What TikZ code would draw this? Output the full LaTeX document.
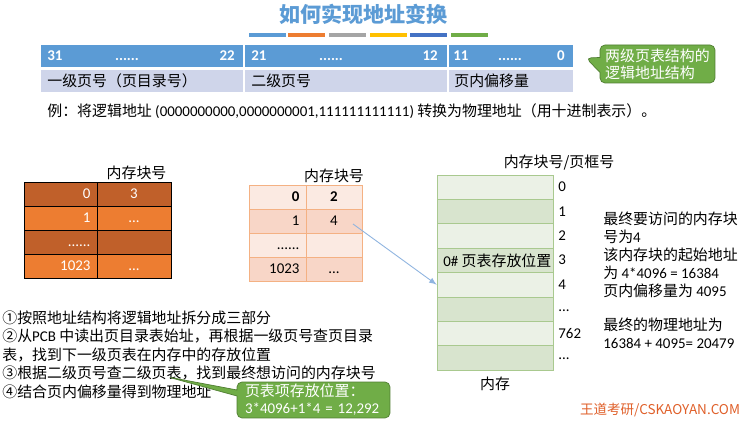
\documentclass[tikz,border=0pt]{standalone}
\usepackage{fontspec}
\setmainfont{Noto Sans CJK SC}
\newfontfamily\en{Carlito}
\usepackage{tikz}
\usetikzlibrary{arrows,shapes.callouts}

\definecolor{barblue}{HTML}{5B9BD5}
\definecolor{rowblue}{HTML}{CFD5EA}
\definecolor{barorange}{HTML}{ED7D31}
\definecolor{bargray}{HTML}{A5A5A5}
\definecolor{baryellow}{HTML}{FFC000}
\definecolor{bardblue}{HTML}{4472C4}
\definecolor{bargreen}{HTML}{70AD47}
\definecolor{calloutedge}{HTML}{507E32}
\definecolor{tabdark}{HTML}{C0602A}
\definecolor{tablight}{HTML}{FBEAE2}
\definecolor{tabpink}{HTML}{F8D6C7}
\definecolor{tabedge}{HTML}{F4B183}
\definecolor{memlight}{HTML}{EBF1E6}
\definecolor{memdark}{HTML}{D8E4CE}
\definecolor{memedge}{HTML}{A9C98F}
\definecolor{linkblue}{HTML}{8FB4E0}
\definecolor{markred}{HTML}{E0602A}

\newcommand\txt{\fontsize{8.5}{10.5}\selectfont}

\begin{document}
\begin{tikzpicture}[x=0.02cm, y=-0.02cm,
        seg/.style={fill=barblue, minimum height=0.44cm, inner sep=0pt},
        rowseg/.style={fill=rowblue, minimum height=0.44cm, inner sep=0pt},
        bar/.style={minimum width=0.73cm, minimum height=0.08cm, inner sep=0pt},
        bit/.style={font=\txt\en\bfseries, text=white, inner sep=0pt},
        lab/.style={font=\txt, inner sep=0pt},
        num/.style={font=\txt\en, inner sep=0pt},
        bubble/.style={rectangle callout, fill=bargreen, draw=calloutedge,
          rounded corners=1mm, text=white, align=left, inner sep=0pt,
          font=\fontsize{8.5}{9.8}\selectfont},
        lcell/.style={draw=black, minimum height=0.48cm, inner sep=0pt,
          text height=5.4pt, text depth=0pt, font=\txt\en, text=white},
        lkey/.style={lcell, text width=1.2cm, align=right, inner xsep=0.13cm},
        lval/.style={lcell, minimum width=1.48cm},
        rcell/.style={draw=tabedge, minimum height=0.48cm, inner sep=0pt,
          text height=5.4pt, text depth=0pt, font=\txt\en},
        rkey/.style={rcell, text width=0.88cm, align=right, inner xsep=0.13cm},
        rval/.style={rcell, minimum width=1.12cm},
        mem/.style={draw=memedge, minimum width=2.32cm, minimum height=0.4875cm,
          inner sep=0pt}, >=latex]
        \path[use as bounding box, fill=white] (0,0) rectangle (750,421);
        % title and colour bars
        \node (title) at (363.5,14) [font=\fontsize{12}{14}\selectfont\bfseries,
          text=barblue] {如何实现地址变换};
        \node (b1) at (267.3,35) [bar, fill=barblue] {};
        \node (b2) at (306.3,35) [bar, fill=barorange] {};
        \node (b3) at (347.7,35) [bar, fill=bargray] {};
        \node (b4) at (388.3,35) [bar, fill=baryellow] {};
        \node (b5) at (428.3,35) [bar, fill=bardblue] {};
        \node (b6) at (469.3,35) [bar, fill=bargreen] {};
        % logical address layout
        \node (hi) at (142,56) [seg, minimum width=4.04cm] {};
        \node (mid) at (346,56) [seg, minimum width=4.04cm] {};
        \node (lo) at (511,56) [seg, minimum width=2.48cm] {};
        \node (hin) at (142,81) [rowseg, minimum width=4.04cm] {};
        \node (midn) at (346,81) [rowseg, minimum width=4.04cm] {};
        \node (lon) at (511,81) [rowseg, minimum width=2.48cm] {};
        \node (b31) at (47,60.7) [bit, anchor=base west] {31};
        \node (d1) at (127,60.7) [bit, anchor=base] {......};
        \node (b22) at (235,60.7) [bit, anchor=base east] {22};
        \node (b21) at (251,60.7) [bit, anchor=base west] {21};
        \node (d2) at (331,60.7) [bit, anchor=base] {......};
        \node (b12) at (438,60.7) [bit, anchor=base east] {12};
        \node (b11) at (453,60.7) [bit, anchor=base west] {11};
        \node (d3) at (510,60.7) [bit, anchor=base] {......};
        \node (b0) at (565,60.7) [bit, anchor=base east] {0};
        \node (pdir) at (47,81) [lab, anchor=west] {一级页号（页目录号）};
        \node (ppage) at (251,81) [lab, anchor=west] {二级页号};
        \node (poff) at (454,81) [lab, anchor=west] {页内偏移量};
        \coordinate (tipa) at (586,58);
        \node (note) at (657.5,64) [bubble, minimum width=2.3cm, minimum height=0.76cm,
          callout absolute pointer={(tipa)}, callout pointer width=0.3cm]
          {两级页表结构的\\逻辑地址结构};
        \node (ex) at (47,111) [lab, anchor=west]
          {例：将逻辑地址 {\en (0000000000,0000000001,111111111111)} 转换为物理地址（用十进制表示）。};
        % page directory
        \node (lhead) at (136.5,173) [lab] {内存块号};
        \node (l0k) at (60.5,194) [lkey, fill=tabdark] {0};
        \node (l0v) at (134,194) [lval, fill=tabdark] {3};
        \node (l1k) at (60.5,218) [lkey, fill=barorange] {1};
        \node (l1v) at (134,218) [lval, fill=barorange] {...};
        \node (l2k) at (60.5,242) [lkey, fill=tabdark] {......};
        \node (l2v) at (134,242) [lval, fill=tabdark] {};
        \node (l3k) at (60.5,266) [lkey, fill=barorange] {1023};
        \node (l3v) at (134,266) [lval, fill=barorange] {...};
        % second level page table
        \node (rhead) at (334,176) [lab] {内存块号};
        \node (r0k) at (277.5,197) [rkey, fill=tablight, font=\txt\en\bfseries] {0};
        \node (r0v) at (334,197) [rval, fill=tablight, font=\txt\en\bfseries] {2};
        \node (r1k) at (277.5,221) [rkey, fill=tabpink] {1};
        \node (r1v) at (334,221) [rval, fill=tabpink] {4};
        \node (r2k) at (277.5,245) [rkey, fill=tablight] {......};
        \node (r2v) at (334,245) [rval, fill=tablight] {};
        \node (r3k) at (277.5,269) [rkey, fill=tabpink] {1023};
        \node (r3v) at (334,269) [rval, fill=tabpink] {...};
        % memory
        \node (mhead) at (559,163) [lab] {内存块号/页框号};
        \node (m0) at (495,187.2) [mem, fill=memlight] {};
        \node (m1) at (495,211.6) [mem, fill=memdark] {};
        \node (m2) at (495,236) [mem, fill=memlight] {};
        \node (m3) at (495,260.3) [mem, fill=memdark] {};
        \node (m4) at (495,284.7) [mem, fill=memlight] {};
        \node (m5) at (495,309.1) [mem, fill=memdark] {};
        \node (m6) at (495,333.4) [mem, fill=memlight] {};
        \node (m7) at (495,357.8) [mem, fill=memdark] {};
        \node (slot) at (443,260.3) [lab, anchor=west] {{\en 0\#} 页表存放位置};
        \node (mfoot) at (495,384) [lab] {内存};
        \node (f0) at (558,191.9) [num, anchor=base west] {0};
        \node (f1) at (558,216.3) [num, anchor=base west] {1};
        \node (f2) at (558,240.7) [num, anchor=base west] {2};
        \node (f3) at (558,265) [num, anchor=base west] {3};
        \node (f4) at (558,289.4) [num, anchor=base west] {4};
        \node (f5) at (558,311.5) [num, anchor=base west] {...};
        \node (f6) at (558,338.1) [num, anchor=base west] {762};
        \node (f7) at (558,359.5) [num, anchor=base west] {...};
        \coordinate (fromfour) at (353,224);
        \draw[->, linkblue, line width=0.5pt] (fromfour) -- (m4.west);
        % explanations
        \node (res1) at (603,212) [lab, anchor=north west, align=left,
          font=\fontsize{8.5}{10.2}\selectfont] {最终要访问的内存块\\号为{\en 4}};
        \node (res2) at (603,248) [lab, anchor=north west, align=left,
          font=\fontsize{8.5}{10.2}\selectfont]
          {该内存块的起始地址\\为 {\en 4*4096 = 16384}\\页内偏移量为 {\en 4095}};
        \node (res3) at (603,318) [lab, anchor=north west, align=left,
          font=\fontsize{8.5}{10.2}\selectfont]
          {最终的物理地址为\\{\en 16384 + 4095= 20479}};
        \node (steps) at (2,310.5) [lab, anchor=north west, align=left,
          font=\fontsize{8.5}{10.5}\selectfont]
          {①按照地址结构将逻辑地址拆分成三部分\\
           ②从{\en PCB} 中读出页目录表始址，再根据一级页号查页目录\\
           表，找到下一级页表在内存中的存放位置\\
           ③根据二级页号查二级页表，找到最终想访问的内存块号\\
           ④结合页内偏移量得到物理地址};
        \coordinate (tipb) at (168,377);
        \node (pte) at (313.5,400) [bubble, minimum width=3.06cm, minimum height=0.72cm,
          text width=2.74cm, callout absolute pointer={(tipb)},
          callout pointer width=0.12cm]
          {页表项存放位置：\\{\en 3*4096+1*4 = 12,292}};
        \node (mark) at (660,410) [font=\fontsize{7.7}{9}\selectfont, text=markred,
          inner sep=0pt] {王道考研/CSKAOYAN.COM};
\end{tikzpicture}
\end{document}
